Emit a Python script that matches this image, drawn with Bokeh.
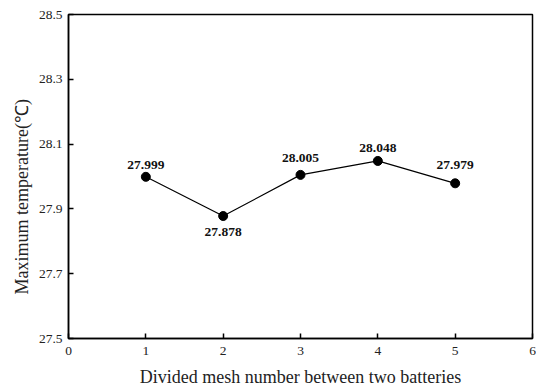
from bokeh.plotting import figure
from bokeh.models import FixedTicker, ColumnDataSource, Range1d, Title
from bokeh.core.properties import value
from bokeh.embed import file_html
from bokeh.resources import INLINE

mesh = [1, 2, 3, 4, 5]
temps = [27.999, 27.878, 28.005, 28.048, 27.979]
labels = ["27.999", "27.878", "28.005", "28.048", "27.979"]
x_ticks = [0, 1, 2, 3, 4, 5, 6]
y_ticks = [27.5, 27.7, 27.9, 28.1, 28.3, 28.5]
x_title = "Divided mesh number between two batteries"
y_title = "Maximum temperature(℃)"

# label baseline offsets in pixels (negative = above the point)
label_dy = [-12, 16, -17, -13, -18]

FONT = "Liberation Serif"

p = figure(width=536, height=390, output_backend="svg", toolbar_location=None,
           x_range=Range1d(0, 6), y_range=Range1d(27.5, 28.5),
           min_border_left=68, min_border_right=4, min_border_top=14, min_border_bottom=52)
p.grid.visible = False
p.outline_line_color = "black"
p.outline_line_width = 1.5
p.background_fill_color = "white"
p.border_fill_color = "white"

for ax in (p.xaxis, p.yaxis):
    ax.axis_line_width = 1.5
    ax.axis_line_color = "black"
    ax.major_tick_in = 5
    ax.major_tick_out = 0
    ax.minor_tick_line_color = None
    ax.major_tick_line_width = 1.5
    ax.major_label_text_font = FONT
    ax.major_label_text_font_size = "13.5px"
    ax.major_label_text_color = "#222222"
    ax.axis_label_text_font = FONT
    ax.axis_label_text_font_size = "18px"
    ax.axis_label_text_font_style = "normal"
    ax.axis_label_text_color = "#222222"

p.xaxis.ticker = FixedTicker(ticks=x_ticks)
p.yaxis.ticker = FixedTicker(ticks=y_ticks)
p.xaxis.major_label_overrides = {t: str(t) for t in x_ticks}
p.yaxis.major_label_overrides = {t: f"{t:.1f}" for t in y_ticks}
p.xaxis.major_label_standoff = 8
p.yaxis.major_label_standoff = 6
p.xaxis.axis_label = x_title
p.xaxis.axis_label_standoff = 9

ytitle = Title(text=y_title, align="left", offset=44, standoff=8,
               text_font=FONT, text_font_size="18px", text_font_style="normal",
               text_color="#222222")
p.add_layout(ytitle, "left")

src = ColumnDataSource(dict(x=mesh, y=temps, t=labels, dy=label_dy))
p.line("x", "y", source=src, line_color="black", line_width=1.2)
p.scatter("x", "y", source=src, size=9, fill_color="black", line_color="black")
p.text("x", "y", text="t", source=src, text_font=value(FONT), text_font_size="13.5px",
       text_font_style="bold", text_align="center", text_baseline="alphabetic",
       y_offset="dy", text_color="#111111")

open("out.html", "w").write(file_html(p, INLINE))
